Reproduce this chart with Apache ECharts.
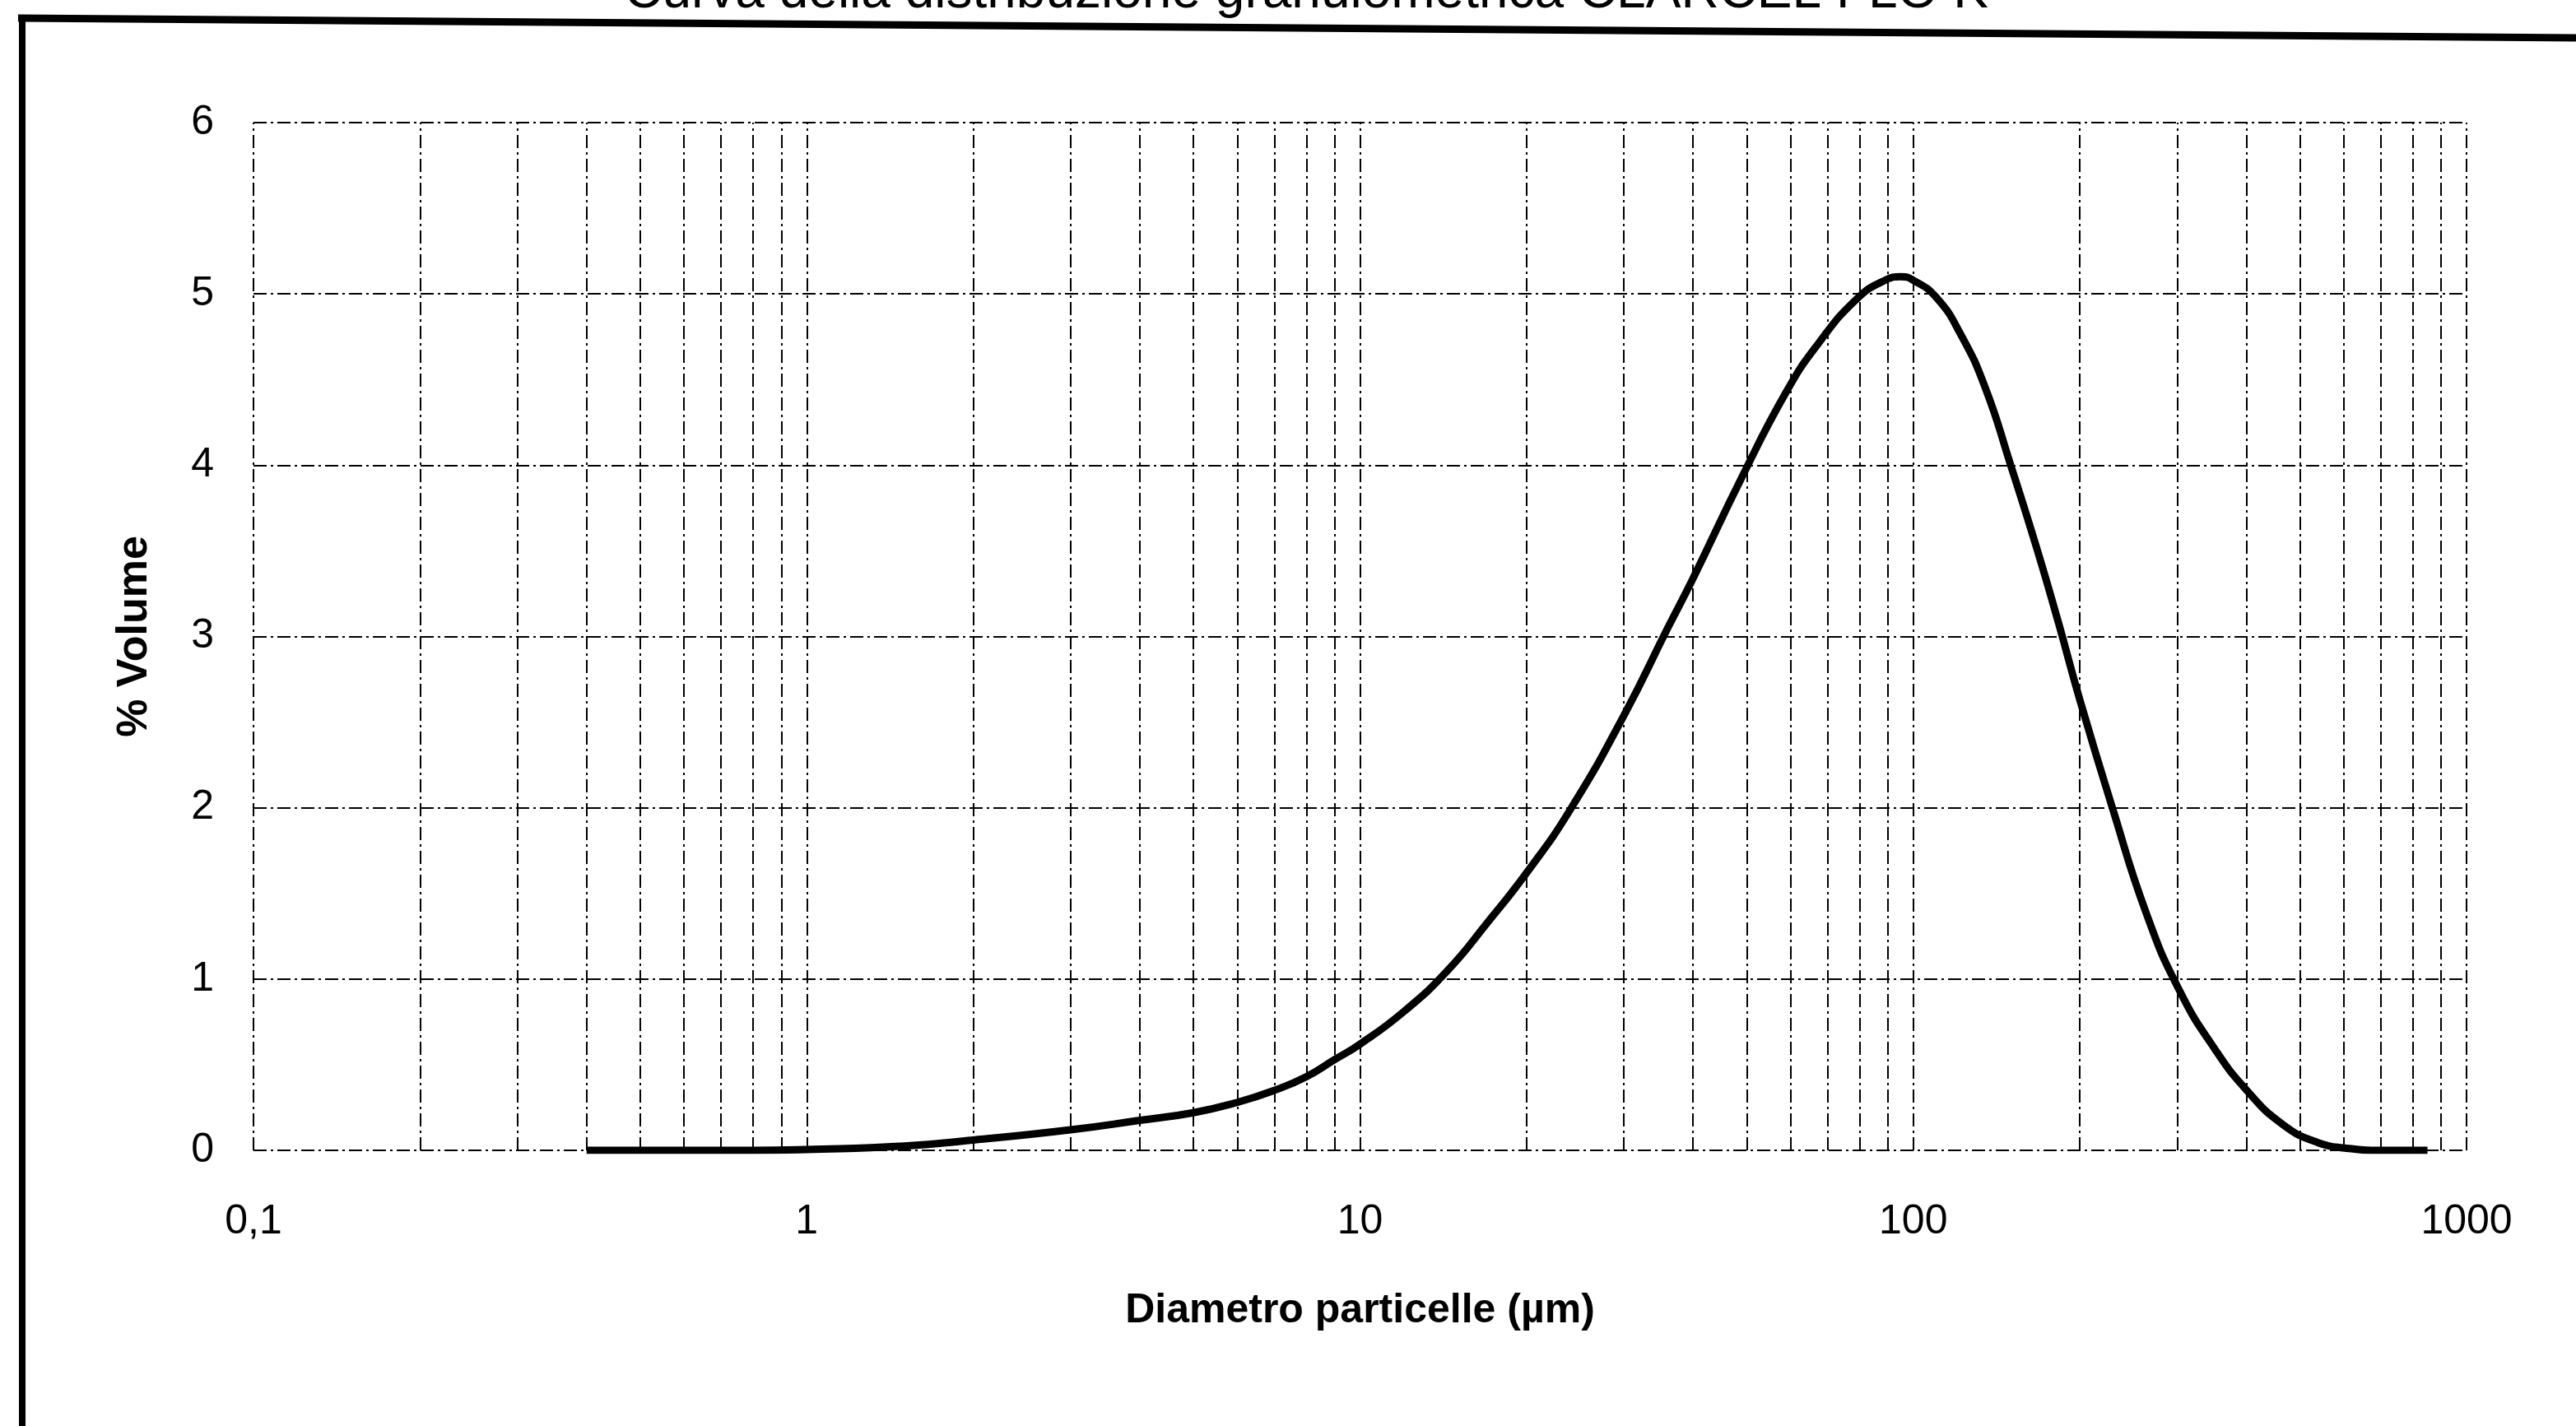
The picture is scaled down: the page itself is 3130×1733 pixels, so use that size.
<!DOCTYPE html>
<html lang="it">
<head>
<meta charset="UTF-8">
<title>Curva granulometrica</title>
<script src="https://cdn.jsdelivr.net/npm/echarts@6/dist/echarts.min.js"></script>
<style>
  html, body { margin: 0; padding: 0; background: #fff; }
  #chart { width: 3130px; height: 1733px; }
</style>
</head>
<body>
<div id="chart"></div>
<script>
// diametro particelle (µm) e % volume
var diametro = [0.4, 0.5, 0.6, 0.8, 1, 1.5, 2, 3, 4, 5, 6, 7, 8, 9, 10, 12, 14.4, 17, 20, 24,
  30, 36, 40, 49, 59, 67, 79, 89, 95, 100, 110, 122, 135, 150, 167, 183, 200, 229, 264, 302,
  351, 402, 466, 538, 619, 700, 850];
var volume = [0, 0, 0, 0, 0.005, 0.025, 0.06, 0.12, 0.175, 0.22, 0.28, 0.35, 0.43, 0.53, 0.62, 0.81, 1.05, 1.33, 1.62, 1.99,
  2.54, 3.05, 3.34, 3.93, 4.43, 4.70, 4.97, 5.08, 5.10, 5.08, 4.98, 4.76, 4.45, 4.0, 3.52, 3.08, 2.63, 2.0, 1.38, 0.94,
  0.59, 0.345, 0.15, 0.046, 0.01, 0, 0];

// linee verticali della griglia logaritmica
var grigliaX = [0.1, 0.2, 0.3, 0.4, 0.5, 0.6, 0.7, 0.8, 0.9,
  1, 2, 3, 4, 5, 6, 7, 8, 9,
  10, 20, 30, 40, 50, 60, 70, 80, 90,
  100, 200, 300, 400, 500, 600, 700, 800, 900, 1000];

var titolo = 'Curva della distribuzione granulometrica CLARCEL FLO K';
var font = '"Liberation Sans", Arial, sans-serif';
var tratto = [16, 5, 3, 5];  // linea tratto-punto

var punti = [];
for (var i = 0; i < diametro.length; i++) {
  punti.push([diametro[i], volume[i]]);
}

var chart = echarts.init(document.getElementById('chart'));

var option = {
  backgroundColor: '#fff',
  animation: false,
  title: {
    text: titolo,
    left: 1582,
    textAlign: 'center',
    top: -46,
    textStyle: { fontFamily: font, fontSize: 64, fontWeight: 'normal', color: '#000' }
  },
  grid: { left: 308, right: 133, top: 149, bottom: 335 },
  xAxis: {
    type: 'log',
    logBase: 10,
    min: 0.1,
    max: 1000,
    splitNumber: 4,
    name: 'Diametro particelle (µm)',
    nameLocation: 'middle',
    nameGap: 170,
    nameTextStyle: { fontFamily: font, fontSize: 50, fontWeight: 'bold', color: '#000' },
    axisLine: { show: false },
    axisTick: { show: false },
    splitLine: { show: false },
    axisLabel: {
      fontFamily: font, fontSize: 50, color: '#000', margin: 62,
      showMinLabel: true, showMaxLabel: true,
      formatter: function (v) {
        return v < 1 ? String(+v.toFixed(1)).replace('.', ',') : String(Math.round(v));
      }
    }
  },
  yAxis: {
    type: 'value',
    min: 0,
    max: 6,
    interval: 1,
    name: '% Volume',
    nameLocation: 'middle',
    nameGap: 118,
    nameTextStyle: { fontFamily: font, fontSize: 52, fontWeight: 'bold', color: '#000' },
    axisLine: { show: false },
    axisTick: { show: false },
    axisLabel: { fontFamily: font, fontSize: 50, color: '#000', margin: 48 },
    splitLine: { show: true, lineStyle: { color: '#000', width: 2, type: tratto } }
  },
  graphic: [
    { type: 'line', shape: { x1: 22, y1: 22, x2: 3130, y2: 46 }, style: { stroke: '#000', lineWidth: 9 } },
    { type: 'line', shape: { x1: 27, y1: 18, x2: 27, y2: 1733 }, style: { stroke: '#000', lineWidth: 8 } }
  ],
  series: [{
    type: 'line',
    data: punti,
    smooth: 0.5,
    showSymbol: false,
    z: 5,
    lineStyle: { color: '#000', width: 9 },
    markLine: {
      silent: true,
      symbol: 'none',
      label: { show: false },
      lineStyle: { color: '#000', width: 2, type: tratto },
      data: grigliaX.map(function (v) { return { xAxis: v }; })
    }
  }]
};

chart.setOption(option);
</script>
</body>
</html>
